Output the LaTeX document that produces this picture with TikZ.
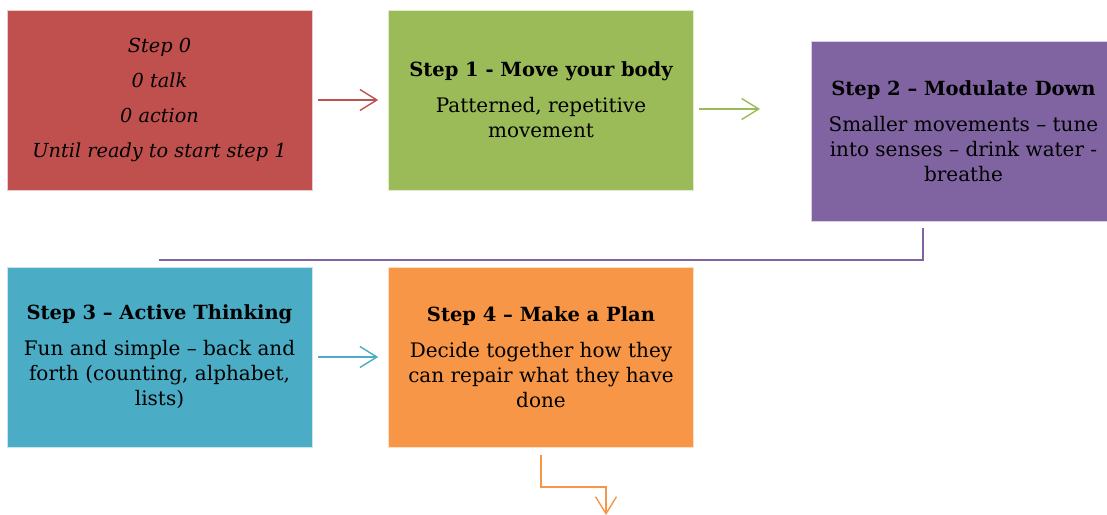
\documentclass[tikz,border=0pt]{standalone}
\usepackage{fontspec}
\setmainfont{DejaVu Serif}
\usetikzlibrary{arrows.meta}
\definecolor{cRed}{HTML}{C0504D}
\definecolor{cGreen}{HTML}{9BBB59}
\definecolor{cPurple}{HTML}{8064A2}
\definecolor{cBlue}{HTML}{4BACC6}
\definecolor{cOrange}{HTML}{F79646}
\tikzset{
  stepbox/.style={rectangle, draw=white!70!#1, line width=0.6pt, fill=#1,
    minimum width=305pt, minimum height=180pt, inner sep=0pt,
    align=center, text=black,
    font=\fontsize{20}{25}\selectfont},
  link/.style={draw=#1, line width=1.4pt},
  flow/.style={link=#1, -{Straight Barb[length=17pt,width=21pt,line width=1.4pt]}},
}
\newcommand{\steptitle}[1]{{\fontsize{19.5}{25}\selectfont\bfseries #1}\\[11pt]}
\newcommand{\zeroline}[1]{{\fontsize{19.3}{25}\selectfont\itshape #1}}
\begin{document}
\begin{tikzpicture}[x=1pt,y=-1pt]
\useasboundingbox (0,0) rectangle (1107,514);
\fill[white] (0,0) rectangle (1107,514);

\node[stepbox=cRed] (s0) at (159.5,100) {\zeroline{Step 0}\\[10pt]\zeroline{0 talk}\\[10pt]\zeroline{0 action}\\[10pt]\zeroline{Until ready to start step 1}};
\node[stepbox=cGreen] (s1) at (541,100) {\steptitle{Step 1 - Move your body}Patterned, repetitive\\movement};
\node[stepbox=cPurple] (s2) at (963.5,131) {\steptitle{Step 2 – Modulate Down}Smaller movements – tune\\into senses – drink water -\\breathe};
\node[stepbox=cBlue] (s3) at (159.5,357) {\steptitle{Step 3 – Active Thinking}Fun and simple – back and\\forth (counting, alphabet,\\lists)};
\node[stepbox=cOrange] (s4) at (541,357) {\steptitle{Step 4 – Make a Plan}Decide together how they\\can repair what they have\\done};

% connectors between the steps
\draw[flow=cRed] ([xshift=6pt]s0.east) -- ([xshift=-10pt]s1.west);
\coordinate (g0) at (699,109);
\coordinate (g1) at (760,109);
\draw[flow=cGreen] (g0) -- (g1);
\coordinate (p0) at (923,228);
\coordinate (p1) at (159,260);
\draw[link=cPurple] (p0) |- (p1);
\draw[flow=cBlue] ([xshift=6pt]s3.east) -- ([xshift=-10pt]s4.west);
\coordinate (o0) at (541,455);
\coordinate (o1) at (606,487);
\coordinate (o2) at (606,515);
\draw[flow=cOrange] (o0) |- (o1) -- (o2);
\end{tikzpicture}
\end{document}
